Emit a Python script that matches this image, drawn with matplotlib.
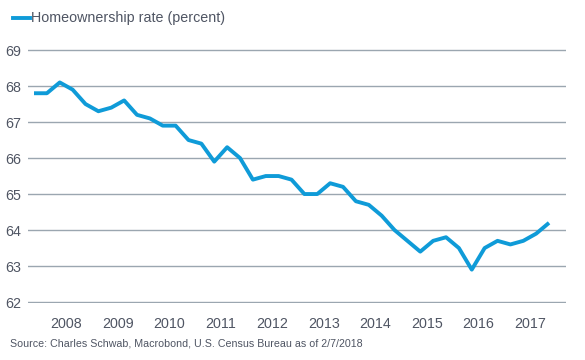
import numpy as np
import matplotlib
matplotlib.use("Agg")
import matplotlib.pyplot as plt

plt.rcParams['font.family'] = ['Liberation Sans', 'DejaVu Sans']

# quarterly homeownership rate, 2007Q4 .. 2017Q4
start_year = 2007
start_quarter = 4
rate = [67.8, 67.8, 68.1, 67.9, 67.5, 67.3, 67.4, 67.6, 67.2, 67.1,
        66.9, 66.9, 66.5, 66.4, 65.9, 66.3, 66.0, 65.4, 65.5, 65.5,
        65.4, 65.0, 65.0, 65.3, 65.2, 64.8, 64.7, 64.4, 64.0, 63.7,
        63.4, 63.7, 63.8, 63.5, 62.9, 63.5, 63.7, 63.6, 63.7, 63.9, 64.2]
years = list(range(2008, 2018))
yticks = list(range(62, 70))

# position of each quarter at its middle, in fractional years
t = [start_year + (start_quarter - 1 + i) * 0.25 + 0.125 for i in range(len(rate))]

blue = '#0f9bd8'
txt = '#4f5563'
grid = '#9ba6b0'

fig = plt.figure(figsize=(5.85, 3.6), dpi=100)
ax = fig.add_axes([0.048, 0.158, 0.92, 0.706])

ax.plot(t, rate, color=blue, lw=2.8, solid_capstyle='butt', solid_joinstyle='round')

ax.set_xlim(2007.76, 2018.21)
ax.set_ylim(61.97, 69.03)
ax.set_yticks(yticks)
ax.set_xticks([y + 0.5 for y in years])
ax.set_xticklabels([str(y) for y in years])
ax.grid(axis='y', color=grid, lw=1)
ax.set_axisbelow(True)
for s in ax.spines.values():
    s.set_visible(False)
ax.tick_params(axis='both', length=0, labelsize=10.3, colors=txt)
ax.tick_params(axis='x', pad=10)
ax.tick_params(axis='y', pad=5)

# legend at top-left
fig.add_artist(plt.Line2D([13/585, 30/585], [1 - 18/360, 1 - 18/360],
                          color=blue, lw=2.8, transform=fig.transFigure))
fig.text(31/585, 1 - 18/360, 'Homeownership rate (percent)', fontsize=10.3,
         color=txt, va='center', ha='left')

fig.text(10/585, 1 - 343/360,
         'Source: Charles Schwab, Macrobond, U.S. Census Bureau as of 2/7/2018',
         fontsize=7.7, color=txt, va='center', ha='left')

fig.savefig('out.png', dpi=100)
